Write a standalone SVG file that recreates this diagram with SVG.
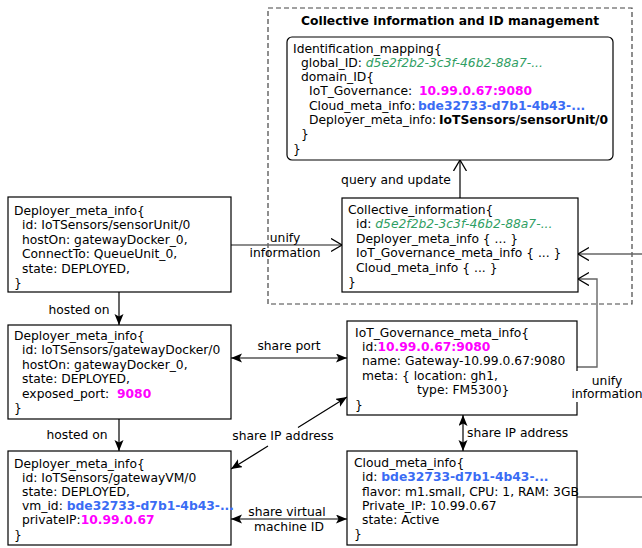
<svg xmlns="http://www.w3.org/2000/svg" width="642" height="548" viewBox="0 0 642 548">
<defs>
<style>
text{font-family:"DejaVu Sans","Liberation Sans",sans-serif;font-size:12.3px;fill:#000}
.b{font-weight:bold}
.g{fill:#2f9e63;font-style:italic}
.m{fill:#ff00ff;font-weight:bold}
.u{fill:#3a6cf4;font-weight:bold}
.box{fill:#fff;stroke:#000;stroke-width:1.2}
.c{fill:none;stroke:#000;stroke-width:1.2}
.gr{fill:none;stroke:#666;stroke-width:1.4}
.lbl{text-anchor:middle}
</style>
<marker id="open" markerUnits="userSpaceOnUse" markerWidth="14" markerHeight="15" refX="11" refY="7" orient="auto-start-reverse">
<path d="M0,0.5 L11,7 L0,13.5" fill="none" stroke="#000" stroke-width="1.3"/>
</marker>
<marker id="fill" markerUnits="userSpaceOnUse" markerWidth="12" markerHeight="10" refX="11" refY="4.5" orient="auto-start-reverse">
<path d="M0,0 L11,4.5 L0,9 L2.5,4.5 z" fill="#000"/>
</marker>
</defs>
<rect width="642" height="548" fill="#fff"/>

<g id="container">
<rect x="268" y="8" width="364" height="296" fill="none" stroke="#444" stroke-width="1.2" stroke-dasharray="5,3"/>
<text class="b lbl" x="450" y="25">Collective information and ID management</text>
</g>

<g id="connectors">
<path class="gr" d="M231,245 L342,245" marker-end="url(#open)"/>
<path class="c" d="M460,198 L460,160" marker-end="url(#open)"/>
<path class="gr" d="M642,254 L578,254" marker-end="url(#open)"/>
<path class="gr" d="M577,367 L597,367 L597,279 L578,279" marker-end="url(#open)"/>
<path class="c" d="M119,292 L119,325" marker-end="url(#fill)"/>
<path class="c" d="M119,419 L119,451" marker-end="url(#fill)"/>
<path class="c" d="M231,358 L347,358" marker-start="url(#fill)" marker-end="url(#fill)"/>
<path class="c" d="M347,397 L298,427.5 M268,446 L231,469" marker-start="url(#fill)" marker-end="url(#fill)"/>
<path class="c" d="M463,415 L463,451" marker-start="url(#fill)" marker-end="url(#fill)"/>
<path class="c" d="M231,519 L347,519" marker-start="url(#fill)" marker-end="url(#fill)"/>
<path class="gr" d="M577,497 L642,497"/>
</g>

<g id="identification_mapping">
<rect class="box" x="287" y="37" width="326" height="123" rx="5"/>
<text x="293" y="52.5">Identification_mapping{</text>
<text x="301" y="66.8">global_ID: <tspan class="g">d5e2f2b2-3c3f-46b2-88a7-...</tspan></text>
<text x="301" y="81.1">domain_ID{</text>
<text x="309" y="95.4">IoT_Governance:</text><text class="m" x="419" y="95.4">10.99.0.67:9080</text>
<text x="309" y="109.7">Cloud_meta_info:</text><text class="u" x="418" y="109.7">bde32733-d7b1-4b43-...</text>
<text x="309" y="124">Deployer_meta_info:</text><text class="b" x="439" y="124">IoTSensors/sensorUnit/0</text>
<text x="301" y="138.3">}</text>
<text x="293" y="152.6">}</text>
</g>

<g id="collective_information">
<rect class="box" x="342" y="198" width="236" height="94"/>
<text x="348" y="213.5">Collective_information{</text>
<text x="356" y="228">id: <tspan class="g">d5e2f2b2-3c3f-46b2-88a7-...</tspan></text>
<text x="356" y="242.5">Deployer_meta_info { ... }</text>
<text x="356" y="257">IoT_Governance_meta_info { ... }</text>
<text x="356" y="271.5">Cloud_meta_info { ... }</text>
<text x="348" y="286">}</text>
</g>

<g id="deployer_sensor">
<rect class="box" x="8" y="197" width="223" height="95"/>
<text x="14" y="214.5">Deployer_meta_info{</text>
<text x="22" y="229">id: IoTSensors/sensorUnit/0</text>
<text x="22" y="243.5">hostOn: gatewayDocker_0,</text>
<text x="22" y="258">ConnectTo: QueueUnit_0,</text>
<text x="22" y="272.5">state: DEPLOYED,</text>
<text x="14" y="287">}</text>
</g>

<g id="deployer_docker">
<rect class="box" x="8" y="325" width="223" height="94"/>
<text x="14" y="339.5">Deployer_meta_info{</text>
<text x="22" y="354">id: IoTSensors/gatewayDocker/0</text>
<text x="22" y="368.5">hostOn: gatewayDocker_0,</text>
<text x="22" y="383">state: DEPLOYED,</text>
<text x="22" y="397.5">exposed_port:</text><text class="m" x="117" y="397.5">9080</text>
<text x="14" y="412">}</text>
</g>

<g id="deployer_vm">
<rect class="box" x="8" y="451" width="223" height="94"/>
<text x="14" y="467.5">Deployer_meta_info{</text>
<text x="22" y="481.7">id: IoTSensors/gatewayVM/0</text>
<text x="22" y="495.9">state: DEPLOYED,</text>
<text x="22" y="510.1">vm_id: <tspan class="u">bde32733-d7b1-4b43-...</tspan></text>
<text x="22" y="524.3">privateIP:<tspan class="m">10.99.0.67</tspan></text>
<text x="14" y="538.5">}</text>
</g>

<g id="iot_governance">
<rect class="box" x="347" y="321" width="230" height="94"/>
<text x="355" y="336.5">IoT_Governance_meta_info{</text>
<text x="362" y="350.9">id:<tspan class="m">10.99.0.67:9080</tspan></text>
<text x="362" y="365.3">name: Gateway-10.99.0.67:9080</text>
<text x="362" y="379.7">meta: { location: gh1,</text>
<text x="417" y="394.1">type: FM5300}</text>
<text x="355" y="408.5">}</text>
</g>

<g id="cloud_meta_info">
<rect class="box" x="347" y="451" width="230" height="94"/>
<text x="354" y="466.5">Cloud_meta_info{</text>
<text x="362" y="481">id: <tspan class="u">bde32733-d7b1-4b43-...</tspan></text>
<text x="362" y="495.5">flavor: m1.small, CPU: 1, RAM: 3GB</text>
<text x="362" y="509.5">Private_IP: 10.99.0.67</text>
<text x="362" y="523.5">state: Active</text>
<text x="354" y="537.5">}</text>
</g>

<g id="labels">
<text class="lbl" x="285" y="242">unify</text>
<text class="lbl" x="285" y="257">information</text>
<text class="lbl" x="396" y="184">query and update</text>
<text class="lbl" x="79" y="314">hosted on</text>
<text class="lbl" x="77" y="439">hosted on</text>
<text class="lbl" x="289" y="350">share port</text>
<text class="lbl" x="283" y="440">share IP address</text>
<text x="467" y="437">share IP address</text>
<text class="lbl" x="287" y="516">share virtual</text>
<text class="lbl" x="289" y="531">machine ID</text>
<rect x="571" y="371" width="71" height="31" fill="#fff"/>
<text class="lbl" x="607" y="384.5">unify</text>
<text class="lbl" x="607" y="397.5">information</text>
</g>
</svg>
